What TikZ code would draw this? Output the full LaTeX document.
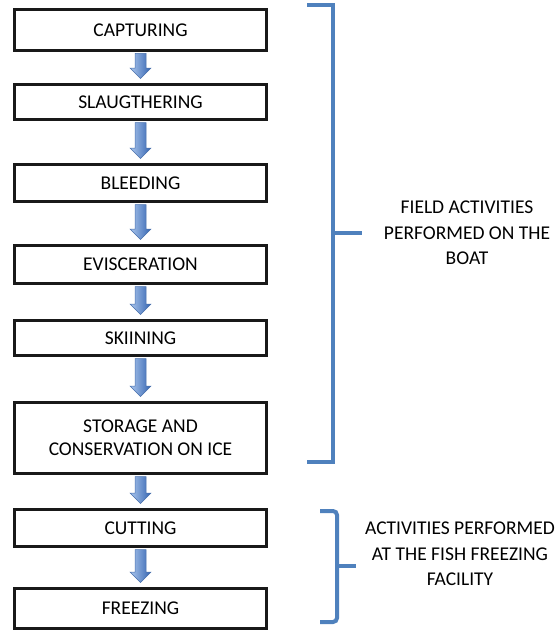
\documentclass[tikz,border=0pt]{standalone}
\usepackage{fontspec}
\setmainfont{Carlito}
\usetikzlibrary{calc}
\definecolor{boxedge}   {RGB}{ 25, 25, 25}
\definecolor{bracecol}  {RGB}{ 79,129,189}
\definecolor{arrowlight}{RGB}{170,198,238}
\definecolor{arrowdark} {RGB}{ 52,100,176}
\definecolor{arrowedge} {RGB}{ 72,112,172}

% block arrow from the bottom of one step to the top of the next
\newcommand{\flowdown}[2]{%
  \shadedraw[flowarrow] let \p1=(#1.south), \p2=(#2.north) in
    (\x1-5.5pt,\y1-1.5pt) -- (\x1+5.5pt,\y1-1.5pt) -- (\x1+5.5pt,\y2+15pt)
    -- (\x1+10.5pt,\y2+15pt) -- (\x1,\y2+4.5pt) -- (\x1-10.5pt,\y2+15pt)
    -- (\x1-5.5pt,\y2+15pt) -- cycle;}

\begin{document}
\begin{tikzpicture}[
  x=1pt, y=-1pt,
  font=\fontsize{19.5}{23}\selectfont,
  block/.style={
      rectangle, draw=boxedge, line width=3pt, fill=white,
      minimum width=252pt, inner sep=2pt, align=center
  },
  flowarrow/.style={
      left color=arrowlight, right color=arrowdark,
      draw=arrowedge, line width=0.5pt, line join=miter
  },
  brace/.style={draw=bracecol, line width=4pt},
  sidelabel/.style={align=center, inner sep=1pt,
      font=\fontsize{19.5}{25.5}\selectfont}
]
\useasboundingbox (0,0) rectangle (556,634);

% ---------------------------------------------------------
% process steps
% ---------------------------------------------------------
\node[block, minimum height=41pt] (capt)  at (140.5,30)    {CAPTURING};
\node[block, minimum height=35pt] (slau)  at (140.5,102)   {SLAUGTHERING};
\node[block, minimum height=37pt] (bleed) at (140.5,183)   {BLEEDING};
\node[block, minimum height=38pt] (evis)  at (140.5,264.5) {EVISCERATION};
\node[block, minimum height=35pt] (skin)  at (140.5,338)   {SKIINING};
\node[block, minimum height=71pt] (store) at (140.5,438)   {STORAGE AND\\CONSERVATION ON ICE};
\node[block, minimum height=37pt] (cut)   at (140.5,528)   {CUTTING};
\node[block, minimum height=40pt] (freez) at (140.5,608.5) {FREEZING};

% arrows between the steps
\flowdown{capt}{slau}
\flowdown{slau}{bleed}
\flowdown{bleed}{evis}
\flowdown{evis}{skin}
\flowdown{skin}{store}
\flowdown{store}{cut}
\flowdown{cut}{freez}

% ---------------------------------------------------------
% brackets and their labels
% ---------------------------------------------------------
\coordinate (boattick) at (333,232.7);
\draw[brace] (307,5) -- (333,5) -- (333,462) -- (307,462);
\draw[brace] (boattick) -- ++(29,0);
\node[sidelabel] (boatlbl) at (467,233) {FIELD ACTIVITIES\\PERFORMED ON THE\\BOAT};

\coordinate (plantick) at (337,566);
\draw[brace, rounded corners=4pt] (320,511) -- (337,511) -- (337,622) -- (320,622);
\draw[brace] (plantick) -- ++(19,0);
\node[sidelabel] (planlbl) at (460,554) {ACTIVITIES PERFORMED\\AT THE FISH FREEZING\\FACILITY};

\end{tikzpicture}
\end{document}
